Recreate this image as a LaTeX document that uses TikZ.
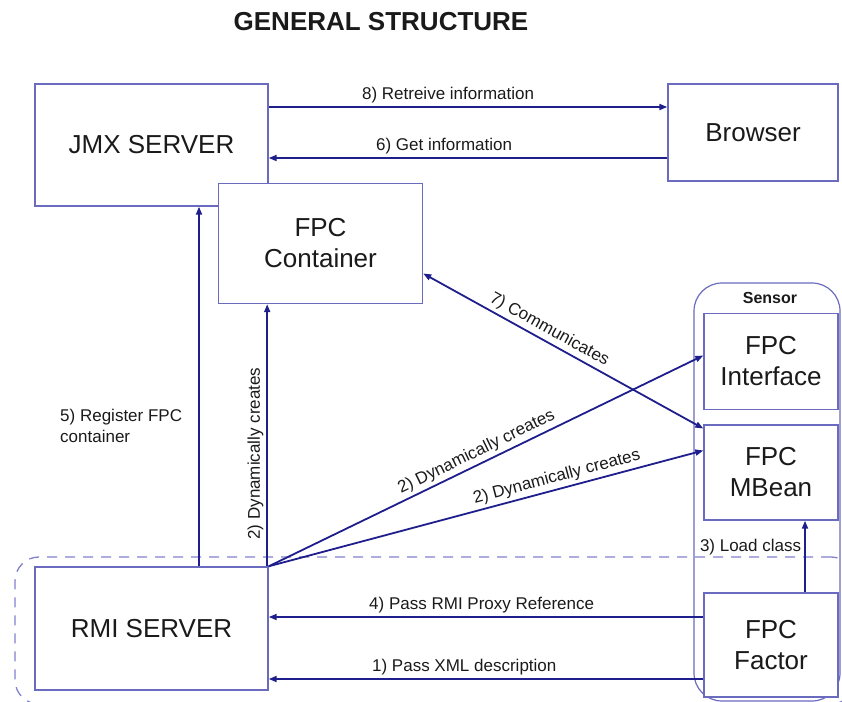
\documentclass[tikz,border=0pt]{standalone}
\usepackage{fontspec}
\setmainfont{Liberation Sans}
\usepackage{xcolor}
\usetikzlibrary{arrows.meta,positioning,calc}
\definecolor{inkK}{HTML}{1A1A1A}
\definecolor{cNavy}{HTML}{1E1E8C}
\definecolor{cLav}{HTML}{6A6ABE}
\definecolor{lLav}{HTML}{8080CC}

\tikzset{
  box/.style={draw=cLav, fill=white, line width=1.4pt, align=center,
              inner sep=0pt, text=inkK, font=\fontsize{26}{31}\selectfont},
  arr/.style={draw=cNavy, line width=1.8pt, -{Triangle[length=8pt,width=6pt]}},
  lbl/.style={text=inkK, inner sep=3pt, font=\fontsize{17}{21}\selectfont},
}

\begin{document}
\begin{tikzpicture}[x=1pt, y=-1pt]
  \useasboundingbox (0,0) rectangle (842,701);
  \clip (0,0) rectangle (842,701);

  \node[font=\bfseries\fontsize{26}{30}\selectfont, text=inkK] (title) at (381,22) {GENERAL STRUCTURE};

  % groups
  \node[draw=lLav, line width=1.3pt, dash pattern=on 10pt off 8pt, rounded corners=24pt,
        minimum width=840pt, minimum height=147pt] (rmigroup) at (435,630.5) {};
  \node[draw=cLav, line width=1.2pt, rounded corners=28pt,
        minimum width=146pt, minimum height=418pt] (sensor) at (767,492) {};
  \node[font=\bfseries\fontsize{16}{18}\selectfont, text=inkK] (sensorlbl) at (770,298) {Sensor};

  % boxes
  \node[box, minimum width=233pt, minimum height=122pt] (jmx) at (151.5,145) {JMX SERVER};
  \node[box, minimum width=170pt, minimum height=97pt] (browser) at (753,132.5) {Browser};
  \node[box, minimum width=204pt, minimum height=120pt] (cont) at (320.5,243.5) {FPC\\Container};
  \node[box, minimum width=134pt, minimum height=96pt] (iface) at (771,361.5) {FPC\\Interface};
  \node[box, minimum width=134pt, minimum height=95pt] (mbean) at (771,472.5) {FPC\\MBean};
  \node[box, minimum width=134pt, minimum height=104pt] (factor) at (771,645) {FPC\\Factor};
  \node[box, minimum width=233pt, minimum height=123pt] (rmi) at (151.5,628.5) {RMI SERVER};

  % connectors
  \draw[arr] ([yshift=38pt]jmx.east) coordinate (a8) -- (a8 -| browser.west)
    node[lbl, above, pos=0.45] {8) Retreive information};
  \draw[arr] ([yshift=-25.5pt]browser.west) coordinate (a6) -- (a6 -| jmx.east)
    node[lbl, above, pos=0.56] {6) Get information};
  \draw[arr] ([xshift=47.5pt]rmi.north) coordinate (a5) -- (a5 |- jmx.south)
    node[lbl, left=13pt, pos=0.39, align=left] {5) Register FPC\\container};
  \draw[arr] ([xshift=-1.5pt]rmi.north east) coordinate (a2) -- (a2 |- cont.south)
    node[lbl, sloped, above, pos=0.43] {2) Dynamically creates};
  \draw[arr] (rmi.north east) -- ([yshift=6pt]iface.west)
    node[lbl, sloped, above, pos=0.49] {2) Dynamically creates};
  \draw[arr] (rmi.north east) -- ([yshift=22pt]mbean.west)
    node[lbl, sloped, above, pos=0.67] {2) Dynamically creates};
  \draw[arr, {Triangle[length=8pt,width=6pt]}-{Triangle[length=8pt,width=6pt]}]
    ([yshift=-30pt]cont.east) -- ([yshift=44pt]mbean.west)
    node[lbl, sloped, above, pos=0.43] {7) Communicates};
  \draw[arr] ([xshift=34pt]factor.north) coordinate (a3) -- (a3 |- mbean.south)
    node[lbl, left=0pt, pos=0.63] {3) Load class};
  \draw[arr] ([yshift=28pt]factor.west) coordinate (a4) -- (a4 -| rmi.east)
    node[lbl, above, pos=0.51] {4) Pass RMI Proxy Reference};
  \draw[arr] ([yshift=-34pt]factor.west) coordinate (a1) -- (a1 -| rmi.east)
    node[lbl, above, pos=0.55] {1) Pass XML description};
\end{tikzpicture}
\end{document}
